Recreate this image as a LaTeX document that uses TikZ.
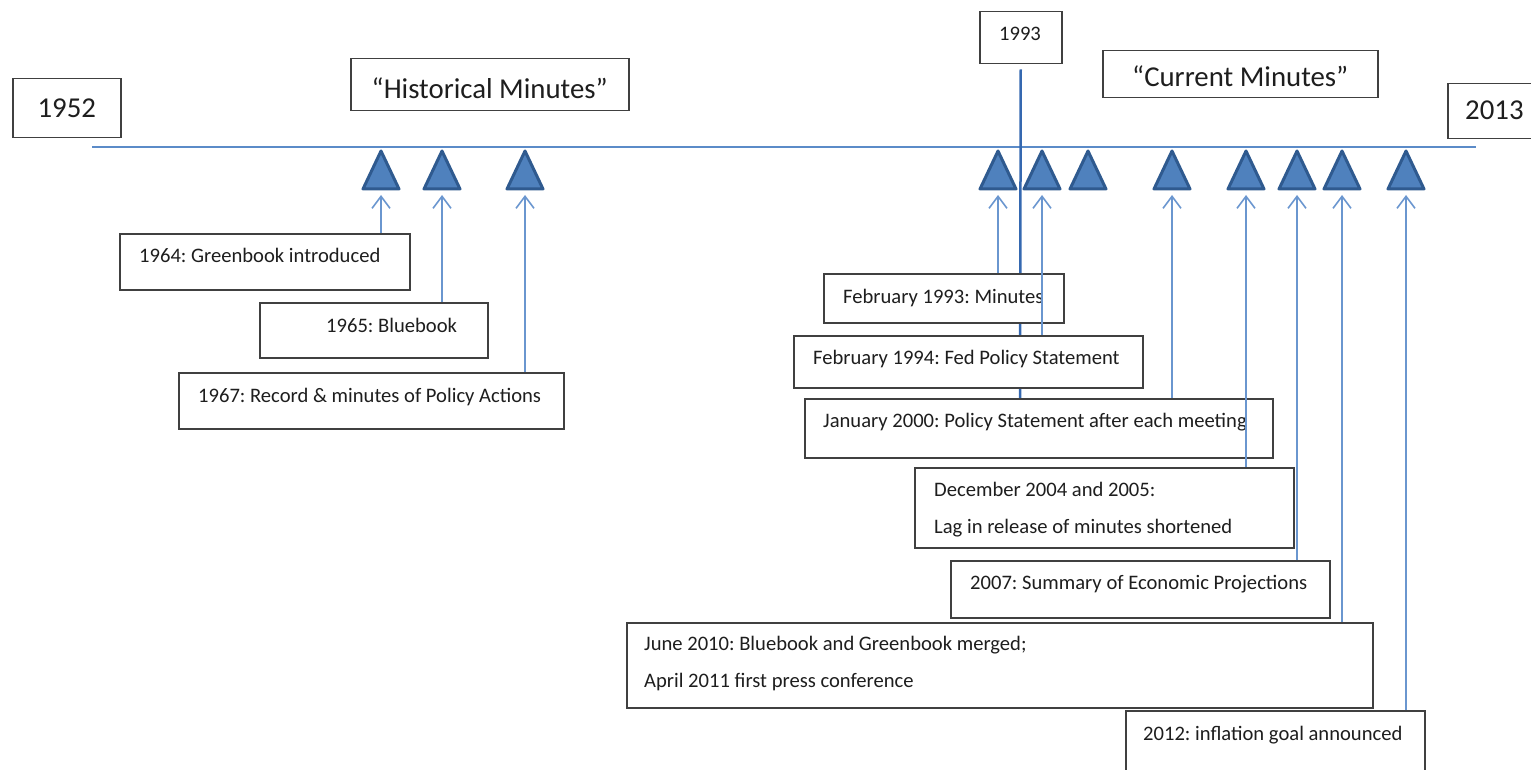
\documentclass[tikz,border=0pt]{standalone}
\usepackage{fontspec}
\setmainfont{Carlito}
\usetikzlibrary{arrows.meta}
\frenchspacing
\definecolor{tlblue}{HTML}{5B8BC8}
\definecolor{trifill}{HTML}{4F81BD}
\definecolor{triedge}{HTML}{2F5A8F}
\definecolor{arrblue}{HTML}{6A96CF}
\definecolor{vline}{HTML}{3568B0}
\definecolor{txt}{HTML}{1E1E1E}
\tikzset{
 box/.style={draw=black!75, line width=1.5pt, fill=white, anchor=north west, inner sep=0pt},
 big/.style={font=\fontsize{28.8}{34}\selectfont, text=txt, inner sep=0pt},
 small/.style={font=\fontsize{20.6}{24}\selectfont, text=txt, inner sep=0pt, anchor=base west},
 tri/.style={fill=trifill, draw=triedge, line width=3pt, line join=round},
 arr/.style={draw=arrblue, line width=1.6pt, -{Straight Barb[length=12pt,width=18pt,line width=1.6pt]}},
 axis/.style={draw=tlblue, line width=2pt},
 marker/.style={draw=vline, line width=2.5pt},
}
\begin{document}
\begin{tikzpicture}[x=1pt,y=-1pt]
\useasboundingbox (0,0) rectangle (1531,770);
\clip (0,0) rectangle (1531,770);
% timeline
\coordinate (tl0) at (92,147);
\coordinate (tl1) at (1476,147);
\draw[axis] (tl0) -- (tl1);
% triangles
\foreach \n/\x in {1/381,2/442,3/525,4/998,5/1042,6/1088,7/1172,8/1246,9/1297,10/1342,11/1406}{
  \draw[tri] (\x,151) -- (\x-18,189) -- (\x+18,189) -- cycle;
  \coordinate (t\n) at (\x,189);
}
% boxes
\node[box, minimum width=108pt, minimum height=59pt] (b52) at (12,78) {};
\node[box, minimum width=278pt, minimum height=52pt] (bhist) at (350,58) {};
\node[box, minimum width=82pt, minimum height=52pt] (b93) at (979,11) {};
\node[box, minimum width=275pt, minimum height=47pt] (bcur) at (1102,50) {};
\node[box, minimum width=110pt, minimum height=55pt] (b13) at (1447,83) {};
% 1993 marker line (under the boxes)
\draw[marker, shorten <=5pt] (b93.south) -- (1020,398);
\node[box, minimum width=290pt, minimum height=56pt] (b64) at (119,233) {};
\node[box, minimum width=228pt, minimum height=55pt] (b65) at (259,302) {};
\node[box, minimum width=385pt, minimum height=56pt] (b67) at (178,372) {};
\node[box, minimum width=240pt, minimum height=49pt] (bf93) at (823,273) {};
\node[box, minimum width=349pt, minimum height=52pt] (bf94) at (793,335) {};
\node[box, minimum width=468pt, minimum height=59pt] (bj00) at (804,398) {};
\node[box, minimum width=379pt, minimum height=80pt] (bd04) at (914,467) {};
\node[box, minimum width=379pt, minimum height=57pt] (b07) at (950,560) {};
\node[box, minimum width=746pt, minimum height=85pt] (b10) at (626,622) {};
\node[box, minimum width=299pt, minimum height=100pt] (b12) at (1125,710) {};
% texts
\node[big] (l52) at (b52.center) {1952};
\node[big] (lhist) at ([yshift=-3pt]bhist.center) {``Historical Minutes''};
\node[small, anchor=base] (l93) at (1020,41) {1993};
\node[big] (lcur) at ([yshift=-2pt]bcur.center) {``Current Minutes''};
\node[big, anchor=base west] (l13) at (1465,120) {2013};
\node[small] (l64) at (139,262) {1964: Greenbook introduced};
\node[small] (l65) at (326,332) {1965: Bluebook};
\node[small] (l67) at (198,402) {1967: Record \& minutes of Policy Actions};
\node[small] (lf93) at (843,303) {February 1993: Minutes};
\node[small] (lf94) at (813,364) {February 1994: Fed Policy Statement};
\node[small] (lj00) at (823,427) {January 2000: Policy Statement after each meeting};
\node[small] (ld04a) at (934,496) {December 2004 and 2005:};
\node[small] (ld04b) at (934,533) {Lag in release of minutes shortened};
\node[small] (l07) at (970,589) {2007: Summary of Economic Projections};
\node[small] (l10a) at (644,650) {June 2010: Bluebook and Greenbook merged;};
\node[small] (l10b) at (644,687) {April 2011 first press conference};
\node[small] (l12) at (1143,740) {2012: inflation goal announced};
% arrows
\draw[arr] (b64.north -| t1) -- ([yshift=-6pt]t1);
\draw[arr] (b65.north -| t2) -- ([yshift=-6pt]t2);
\draw[arr] (b67.north -| t3) -- ([yshift=-6pt]t3);
\draw[arr] (bf93.north -| t4) -- ([yshift=-6pt]t4);
\draw[arr] (bf94.north -| t5) -- ([yshift=-6pt]t5);
\draw[arr] (bj00.north -| t7) -- ([yshift=-6pt]t7);
\draw[arr] (bd04.north -| t8) -- ([yshift=-6pt]t8);
\draw[arr] (b07.north -| t9) -- ([yshift=-6pt]t9);
\draw[arr] (b10.north -| t10) -- ([yshift=-6pt]t10);
\draw[arr] (b12.north -| t11) -- ([yshift=-6pt]t11);
\end{tikzpicture}
\end{document}
